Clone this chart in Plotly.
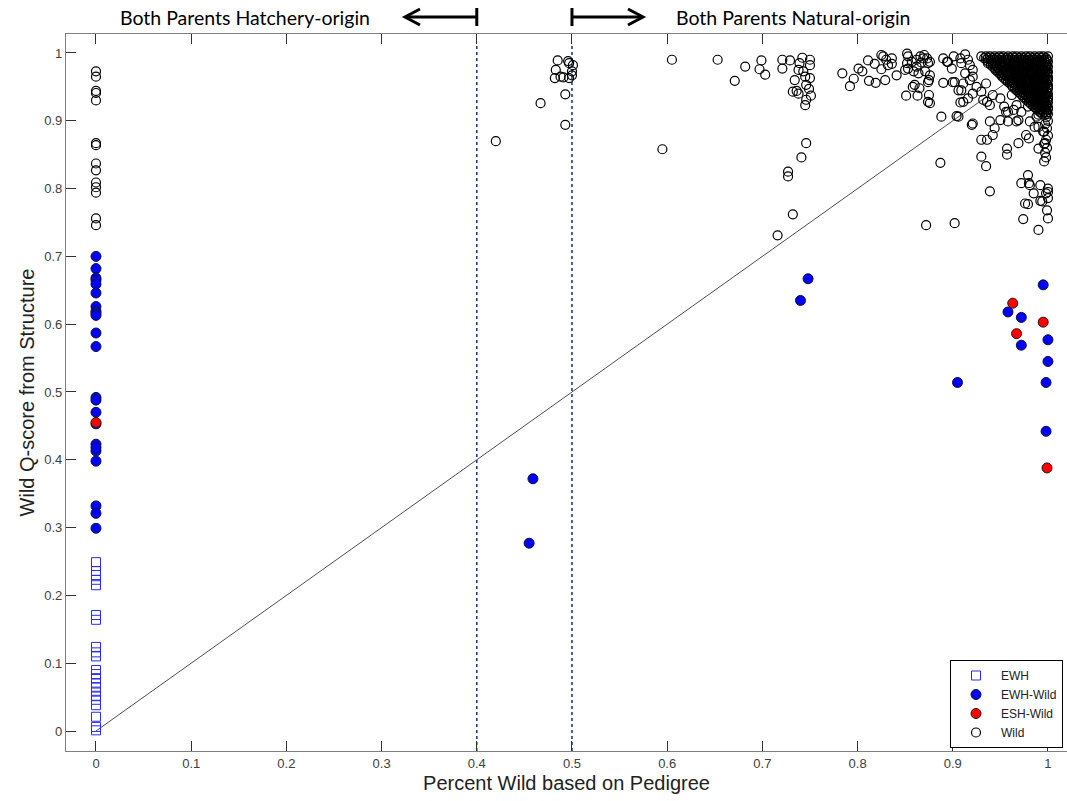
import plotly.graph_objects as go

# ---- axis settings ----
X_RANGE = [-0.0315, 1.02]
Y_RANGE = [-0.0295, 1.028]
x_ticks = [0, 0.1, 0.2, 0.3, 0.4, 0.5, 0.6, 0.7, 0.8, 0.9, 1]
y_ticks = [0, 0.1, 0.2, 0.3, 0.4, 0.5, 0.6, 0.7, 0.8, 0.9, 1]

# ---- EWH (hatchery, open squares), all at 0 % wild ----
ewh_y = [0.249, 0.236, 0.230, 0.223, 0.215, 0.171, 0.164, 0.124, 0.116, 0.110,
         0.090, 0.084, 0.078, 0.070, 0.064, 0.058, 0.052, 0.046, 0.038, 0.021,
         0.006, 0.001]
ewh_x = [0.0] * len(ewh_y)

# ---- EWH-Wild (filled blue) ----
ewhw_x = [0, 0, 0, 0, 0, 0, 0, 0, 0, 0, 0, 0, 0, 0, 0, 0, 0, 0, 0, 0, 0, 0, 0,
          0.459, 0.455, 0.740, 0.748,
          0.995, 0.958, 0.972, 1.000, 0.972, 1.000, 0.905, 0.998, 0.998]
ewhw_y = [0.700, 0.682, 0.668, 0.665, 0.659, 0.646, 0.626, 0.619, 0.616, 0.613,
          0.587, 0.567, 0.492, 0.488, 0.470, 0.453, 0.423, 0.413, 0.398, 0.332,
          0.321, 0.299, 0.418,
          0.372, 0.277, 0.635, 0.667,
          0.658, 0.618, 0.610, 0.577, 0.569, 0.545, 0.514, 0.514, 0.442]

# ---- ESH-Wild (filled red) ----
eshw_x = [0.0, 0.963, 0.995, 0.967, 0.999]
eshw_y = [0.455, 0.631, 0.603, 0.586, 0.388]

# ---- Wild (open circles), scattered fish ----
wild_x = [0, 0, 0, 0, 0, 0, 0, 0, 0, 0, 0, 0, 0, 0,
          0.420, 0.467, 0.493, 0.493, 0.485, 0.496, 0.483, 0.482, 0.491, 0.497,
          0.501, 0.500, 0.500, 0.497, 0.488,
          0.605, 0.595,
          0.653, 0.682, 0.671, 0.699, 0.697, 0.703,
          0.721, 0.721, 0.729, 0.742, 0.750, 0.750, 0.739, 0.738, 0.743, 0.745,
          0.734, 0.750, 0.746, 0.732, 0.736, 0.738, 0.749, 0.751, 0.746, 0.745,
          0.746, 0.741, 0.727, 0.727, 0.732, 0.716,
          0.784, 0.792, 0.796, 0.801, 0.805, 0.811, 0.812, 0.819, 0.818, 0.825,
          0.825, 0.829, 0.830, 0.836, 0.841, 0.836, 0.832, 0.827,
          0.853, 0.852, 0.857, 0.862, 0.866, 0.870, 0.873, 0.874, 0.867, 0.862,
          0.853, 0.850, 0.859, 0.864, 0.876, 0.875, 0.860, 0.865, 0.851, 0.863,
          0.875, 0.874, 0.876, 0.871, 0.874, 0.858, 0.876, 0.869, 0.852,
          0.890, 0.895, 0.901, 0.899, 0.890, 0.900, 0.906, 0.888, 0.906, 0.887,
          0.872, 0.902, 0.894, 0.909, 0.909, 0.908, 0.916, 0.921, 0.918, 0.913,
          0.908, 0.913, 0.918, 0.902, 0.911, 0.921, 0.925, 0.911, 0.916, 0.921,
          0.930, 0.935, 0.932, 0.942, 0.939, 0.950, 0.954, 0.962, 0.958, 0.967,
          0.972, 0.979, 0.969, 0.981, 0.990, 0.986, 0.950, 0.939, 0.921, 0.904,
          0.920, 0.930, 0.936, 0.930, 0.935, 0.936, 0.944, 0.956, 0.958, 0.967,
          0.964, 0.957, 0.957, 0.969, 0.977, 0.980, 0.988, 0.990, 0.990, 0.995,
          0.997, 0.942,
          0.979, 0.972, 0.981, 0.980, 0.992, 1.000, 1.000, 0.985, 0.998, 0.992,
          1.000, 0.994, 0.976, 0.979, 0.999, 0.974, 1.000, 0.990, 0.939]
wild_y = [0.973, 0.965, 0.944, 0.941, 0.930, 0.867, 0.864, 0.837, 0.827, 0.809,
          0.802, 0.794, 0.756, 0.746,
          0.870, 0.926, 0.939, 0.894, 0.989, 0.988, 0.975, 0.963, 0.964, 0.963,
          0.982, 0.973, 0.967, 0.985, 0.965,
          0.990, 0.858,
          0.990, 0.980, 0.959, 0.989, 0.976, 0.968,
          0.990, 0.977, 0.989, 0.993, 0.990, 0.982, 0.985, 0.975, 0.973, 0.965,
          0.960, 0.963, 0.953, 0.943, 0.944, 0.940, 0.947, 0.937, 0.931, 0.923,
          0.867, 0.846, 0.825, 0.818, 0.762, 0.731,
          0.970, 0.951, 0.962, 0.977, 0.973, 0.989, 0.959, 0.956, 0.984, 0.997,
          0.976, 0.960, 0.990, 0.992, 0.967, 0.984, 0.982, 0.995,
          0.995, 0.985, 0.987, 0.990, 0.995, 0.997, 0.992, 0.985, 0.986, 0.980,
          0.977, 0.975, 0.973, 0.970, 0.967, 0.960, 0.953, 0.948, 0.937, 0.937,
          0.938, 0.928, 0.926, 0.973, 0.957, 0.950, 0.987, 0.992, 0.999,
          0.992, 0.987, 0.995, 0.977, 0.956, 0.957, 0.945, 0.906, 0.906, 0.838,
          0.746, 0.749, 0.987, 0.985, 0.945, 0.927, 0.990, 0.975, 0.960, 0.970,
          0.992, 0.998, 0.982, 0.957, 0.955, 0.965, 0.950, 0.928, 0.933, 0.940,
          0.943, 0.955, 0.931, 0.938, 0.923, 0.933, 0.921, 0.938, 0.913, 0.923,
          0.913, 0.921, 0.901, 0.899, 0.909, 0.891, 0.901, 0.899, 0.896, 0.907,
          0.894, 0.872, 0.872, 0.847, 0.833, 0.928, 0.889, 0.913, 0.899, 0.899,
          0.916, 0.859, 0.850, 0.867, 0.879, 0.874, 0.906, 0.891, 0.859, 0.884,
          0.867, 0.879,
          0.820, 0.808, 0.805, 0.808, 0.805, 0.800, 0.795, 0.793, 0.793, 0.782,
          0.786, 0.781, 0.778, 0.777, 0.768, 0.755, 0.756, 0.739, 0.796]

# ---- Wild, dense core near 100 % wild: one x list per Q-score row ----
core_row_y = [0.995, 0.9925, 0.990, 0.9875, 0.985, 0.9825, 0.980, 0.9775,
              0.975, 0.9725, 0.970, 0.9675, 0.965, 0.9625, 0.960, 0.9575,
              0.955, 0.9525, 0.950, 0.9475, 0.945, 0.9425, 0.940, 0.9375,
              0.935, 0.9325, 0.930, 0.9275, 0.925, 0.9225, 0.920, 0.9175,
              0.915, 0.9125, 0.910]
core_row_x = [
    [0.930, 0.935, 0.939, 0.944, 0.949, 0.953, 0.958, 0.963, 0.967, 0.972, 0.977, 0.981, 0.986, 0.991, 0.995, 1.000],
    [0.933, 0.937, 0.942, 0.946, 0.951, 0.956, 0.960, 0.965, 0.970, 0.974, 0.979, 0.984, 0.988, 0.993, 0.998],
    [0.935, 0.940, 0.944, 0.949, 0.954, 0.958, 0.963, 0.968, 0.972, 0.977, 0.981, 0.986, 0.991, 0.996, 0.999],
    [0.937, 0.941, 0.946, 0.951, 0.955, 0.960, 0.965, 0.969, 0.974, 0.978, 0.983, 0.988, 0.992, 0.997, 1.000],
    [0.937, 0.942, 0.946, 0.951, 0.956, 0.960, 0.965, 0.970, 0.974, 0.979, 0.984, 0.988, 0.993, 0.998],
    [0.940, 0.944, 0.949, 0.953, 0.958, 0.963, 0.967, 0.972, 0.976, 0.981, 0.986, 0.990, 0.995, 0.999],
    [0.942, 0.946, 0.951, 0.955, 0.960, 0.965, 0.969, 0.974, 0.979, 0.983, 0.988, 0.993, 0.997, 1.000],
    [0.944, 0.948, 0.953, 0.957, 0.962, 0.966, 0.971, 0.976, 0.980, 0.985, 0.989, 0.994, 0.998],
    [0.945, 0.949, 0.954, 0.958, 0.963, 0.968, 0.972, 0.977, 0.982, 0.986, 0.991, 0.995, 0.999],
    [0.947, 0.951, 0.956, 0.960, 0.965, 0.970, 0.974, 0.979, 0.983, 0.988, 0.992, 0.997, 1.000],
    [0.949, 0.953, 0.958, 0.962, 0.967, 0.972, 0.976, 0.981, 0.985, 0.990, 0.994, 0.999],
    [0.951, 0.955, 0.960, 0.964, 0.969, 0.973, 0.978, 0.982, 0.987, 0.991, 0.996, 0.999],
    [0.952, 0.957, 0.961, 0.966, 0.970, 0.975, 0.980, 0.984, 0.989, 0.993, 0.997, 1.000],
    [0.954, 0.959, 0.963, 0.968, 0.972, 0.977, 0.981, 0.986, 0.990, 0.995, 0.999],
    [0.956, 0.960, 0.965, 0.969, 0.974, 0.978, 0.983, 0.987, 0.992, 0.996, 1.000],
    [0.958, 0.962, 0.967, 0.971, 0.976, 0.980, 0.985, 0.989, 0.994, 0.998],
    [0.960, 0.964, 0.969, 0.973, 0.978, 0.982, 0.987, 0.991, 0.996, 0.999],
    [0.962, 0.966, 0.971, 0.975, 0.980, 0.984, 0.988, 0.993, 0.997, 1.000],
    [0.963, 0.968, 0.972, 0.977, 0.981, 0.986, 0.990, 0.995, 1.000],
    [0.965, 0.970, 0.974, 0.978, 0.983, 0.987, 0.992, 0.996, 1.000],
    [0.967, 0.971, 0.976, 0.980, 0.985, 0.989, 0.994, 0.998],
    [0.969, 0.973, 0.978, 0.982, 0.987, 0.991, 0.995, 0.999],
    [0.971, 0.975, 0.980, 0.984, 0.989, 0.993, 0.997, 1.000],
    [0.973, 0.977, 0.982, 0.986, 0.990, 0.994, 0.998],
    [0.974, 0.979, 0.983, 0.988, 0.992, 0.996, 1.000],
    [0.976, 0.980, 0.985, 0.989, 0.993, 0.997, 1.000],
    [0.978, 0.982, 0.987, 0.991, 0.995, 0.999],
    [0.980, 0.984, 0.988, 0.992, 0.996, 1.000],
    [0.982, 0.986, 0.990, 0.994, 0.998],
    [0.984, 0.988, 0.992, 0.996, 0.999],
    [0.986, 0.990, 0.994, 0.998, 1.000],
    [0.988, 0.992, 0.996, 1.000],
    [0.990, 0.994, 0.998],
    [0.992, 0.996, 0.999],
    [0.994, 0.998, 1.000],
]
# tail of the core running down the 100 % column
core_tail_x = [0.998, 1.000, 0.997, 0.999, 0.996, 1.000, 0.998, 0.996, 0.999, 0.997, 0.998, 0.996]
core_tail_y = [0.905, 0.900, 0.895, 0.889, 0.884, 0.878, 0.872, 0.866, 0.860, 0.853, 0.846, 0.840]

# ---- reference lines ----
diag_x = [0, 1]
diag_y = [0, 1]
cutoff_x = [0.4, 0.5]

# ---- header text ----
left_label = "Both Parents Hatchery-origin"
right_label = "Both Parents Natural-origin"
x_title = "Percent Wild based on Pedigree"
y_title = "Wild Q-score from Structure"

all_wild_x = list(wild_x)
all_wild_y = list(wild_y)
for yv, xs in zip(core_row_y, core_row_x):
    all_wild_x.extend(xs)
    all_wild_y.extend([yv] * len(xs))
all_wild_x.extend(core_tail_x)
all_wild_y.extend(core_tail_y)

W, H = 1067, 801
M_L, M_R, M_T, M_B = 66, 0, 34, 50
plot_w = W - M_L - M_R
plot_h = H - M_T - M_B

fig = go.Figure()

fig.add_trace(go.Scatter(
    x=ewh_x, y=ewh_y, mode="markers", name="EWH",
    marker=dict(symbol="square-open", size=9, color="#2a2aff", line=dict(width=1)),
))
fig.add_trace(go.Scatter(
    x=ewhw_x, y=ewhw_y, mode="markers", name="EWH-Wild",
    marker=dict(symbol="circle", size=10, color="#0000ff",
                line=dict(width=1, color="#101040")),
))
fig.add_trace(go.Scatter(
    x=eshw_x, y=eshw_y, mode="markers", name="ESH-Wild",
    marker=dict(symbol="circle", size=10, color="#ff0000",
                line=dict(width=1, color="#301010")),
))
fig.add_trace(go.Scatter(
    x=all_wild_x, y=all_wild_y, mode="markers", name="Wild",
    marker=dict(symbol="circle-open", size=9, color="#000000", line=dict(width=1.2)),
))

# 1:1 line
fig.add_shape(type="line", xref="x", yref="y", layer="below",
              x0=diag_x[0], y0=diag_y[0], x1=diag_x[1], y1=diag_y[1],
              line=dict(color="#222222", width=0.8))
# cutoff lines
for cx in cutoff_x:
    fig.add_shape(type="line", xref="x", yref="y", layer="below",
                  x0=cx, x1=cx, y0=Y_RANGE[0], y1=1.015,
                  line=dict(color="#1f3b8c", width=1.6, dash="dot"))


def xpaper(v):
    return (v - X_RANGE[0]) / (X_RANGE[1] - X_RANGE[0])


def ypaper_px(py):
    # convert a page pixel row into paper coordinates
    return (H - M_B - py) / plot_h


def xpaper_px(px):
    return (px - M_L) / plot_w


arrow_line = dict(color="black", width=3)
y_mid = ypaper_px(17)
y_top = ypaper_px(8)
y_bot = ypaper_px(26)

# left arrow (hatchery side), ending at the 0.4 cutoff
xl_bar = xpaper(cutoff_x[0])
xl_tip = xpaper_px(405)
xl_arm = xpaper_px(420)
fig.add_shape(type="line", xref="paper", yref="paper", x0=xl_bar, x1=xl_bar,
              y0=y_bot, y1=y_top, line=arrow_line)
fig.add_shape(type="line", xref="paper", yref="paper", x0=xl_tip, x1=xl_bar,
              y0=y_mid, y1=y_mid, line=arrow_line)
fig.add_shape(type="path", xref="paper", yref="paper",
              path=f"M {xl_arm},{ypaper_px(9)} L {xl_tip},{y_mid} L {xl_arm},{ypaper_px(25)}",
              line=arrow_line)

# right arrow (natural side), starting at the 0.5 cutoff
xr_bar = xpaper(cutoff_x[1])
xr_tip = xpaper_px(643)
xr_arm = xpaper_px(628)
fig.add_shape(type="line", xref="paper", yref="paper", x0=xr_bar, x1=xr_bar,
              y0=y_bot, y1=y_top, line=arrow_line)
fig.add_shape(type="line", xref="paper", yref="paper", x0=xr_bar, x1=xr_tip,
              y0=y_mid, y1=y_mid, line=arrow_line)
fig.add_shape(type="path", xref="paper", yref="paper",
              path=f"M {xr_arm},{ypaper_px(9)} L {xr_tip},{y_mid} L {xr_arm},{ypaper_px(25)}",
              line=arrow_line)

head_font = dict(family="Lato", size=19.5, color="black")
fig.add_annotation(text=left_label, xref="paper", yref="paper",
                   x=xpaper_px(245), y=y_mid, showarrow=False,
                   xanchor="center", yanchor="middle", font=head_font)
fig.add_annotation(text=right_label, xref="paper", yref="paper",
                   x=xpaper_px(793), y=y_mid, showarrow=False,
                   xanchor="center", yanchor="middle", font=head_font)

axis_common = dict(
    showgrid=False, zeroline=False, showline=True, linecolor="#7f7f7f", linewidth=1.2,
    ticks="inside", ticklen=10, tickcolor="#333333", tickwidth=1,
    tickfont=dict(family="Liberation Sans, Arial", size=13, color="#404040"),
)

fig.update_layout(
    width=W, height=H,
    margin=dict(l=M_L, r=M_R, t=M_T, b=M_B),
    paper_bgcolor="white", plot_bgcolor="white",
    showlegend=True,
    legend=dict(
        x=xpaper_px(950), y=ypaper_px(748), xanchor="left", yanchor="bottom",
        bgcolor="white", bordercolor="black", borderwidth=1,
        font=dict(family="Liberation Sans, Arial", size=12, color="#222222"),
        traceorder="normal", itemwidth=40, entrywidth=90,
    ),
    xaxis=dict(
        range=X_RANGE, tickvals=x_ticks, mirror="ticks",
        title=dict(text=x_title, standoff=6,
                   font=dict(family="Liberation Sans, Arial", size=20, color="#222222")),
        **axis_common,
    ),
    yaxis=dict(
        range=Y_RANGE, tickvals=y_ticks, mirror=False,
        title=dict(text=y_title, standoff=4,
                   font=dict(family="Liberation Sans, Arial", size=20, color="#222222")),
        **axis_common,
    ),
)

fig.write_html("out.html")
